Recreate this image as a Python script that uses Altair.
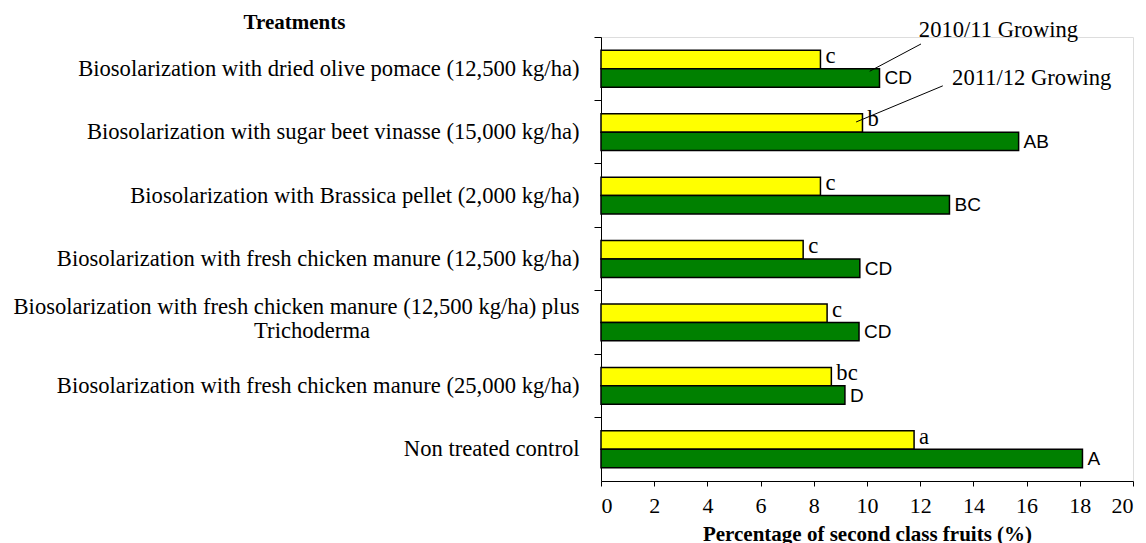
import altair as alt
import pandas as pd

# ---------------- data ----------------
treatments = [
    "Biosolarization with dried olive pomace (12,500 kg/ha)",
    "Biosolarization with sugar beet vinasse (15,000 kg/ha)",
    "Biosolarization with Brassica pellet (2,000 kg/ha)",
    "Biosolarization with fresh chicken manure (12,500 kg/ha)",
    "Biosolarization with fresh chicken manure (12,500 kg/ha) plus\nTrichoderma",
    "Biosolarization with fresh chicken manure (25,000 kg/ha)",
    "Non treated control",
]
seasons = ["2011/12", "2010/11"]
values_2011_12 = [8.25, 9.83, 8.25, 7.6, 8.5, 8.66, 11.77]
letters_2011_12 = ["c", "b", "c", "c", "c", "bc", "a"]
values_2010_11 = [10.47, 15.7, 13.1, 9.73, 9.7, 9.17, 18.1]
letters_2010_11 = ["CD", "AB", "BC", "CD", "CD", "D", "A"]
colors = ["#FFFF00", "#008000"]
x_ticks = [0, 2, 4, 6, 8, 10, 12, 14, 16, 18, 20]

# callout labels (x in data units, y in rows counted from the top)
callout_text = ["2010/11 Growing", "2011/12 Growing"]
callout_text_x = [11.95, 13.2]
callout_text_y = [0.0, 0.76]
callout_from_x = [10.1, 9.59]
callout_from_y = [0.54, 1.34]
callout_to_x = [12.03, 12.85]
callout_to_y = [0.11, 0.77]

# ---------------- tables ----------------
rows = []
for i, t in enumerate(treatments):
    rows.append({"treat": t, "season": seasons[0], "value": values_2011_12[i], "letter": letters_2011_12[i]})
    rows.append({"treat": t, "season": seasons[1], "value": values_2010_11[i], "letter": letters_2010_11[i]})
df = pd.DataFrame(rows)

second_lines = pd.DataFrame({
    "treat": [t for t in treatments if "\n" in t],
    "line2": [t.split("\n")[1] for t in treatments if "\n" in t],
})
callouts = pd.DataFrame({
    "text": callout_text, "tx": callout_text_x, "ty": callout_text_y,
    "x1": callout_from_x, "y1": callout_from_y, "x2": callout_to_x, "y2": callout_to_y,
})

W, H = 532, 444
serif = "Liberation Serif"
sans = "Liberation Sans"
multi = "indexof(datum.value, '\\n') >= 0"

x_scale = alt.Scale(domain=[0, 20], nice=False, zero=True)
y_enc = alt.Y(
    "treat:N", sort=treatments,
    scale=alt.Scale(paddingInner=0, paddingOuter=0),
    axis=alt.Axis(
        title="Treatments", titleAngle=0, titleX=-307, titleY=-9,
        titleAlign="center", titleBaseline="alphabetic",
        titleFont=serif, titleFontSize=21, titleFontWeight="bold", titleColor="black",
        labelExpr="split(datum.label, '\\n')[0]",
        labelFont=serif, labelFontSize=22.6, labelColor="black", labelLimit=0,
        labelAlign="right", labelPadding=15,
        labelOffset={"condition": {"test": multi, "value": -15}, "value": 0},
        bandPosition=0, tickSize=7, tickColor="black", domainColor="black",
        grid=False,
    ),
)
yoff_enc = alt.YOffset("season:N", sort=seasons,
                       scale=alt.Scale(paddingInner=0, paddingOuter=0.72))

x_axis = alt.Axis(
    values=x_ticks, grid=False, title="Percentage of second class fruits (%)",
    titleFont=serif, titleFontSize=21, titleFontWeight="bold", titleColor="black",
    titleY=59, titleBaseline="alphabetic",
    labelFont=serif, labelFontSize=22, labelColor="black", labelBaseline="alphabetic",
    labelPadding=26, tickSize=5, tickColor="black", domainColor="black",
)

base = alt.Chart(df)

bars = base.mark_bar(stroke="black", strokeWidth=1.5).encode(
    x=alt.X("value:Q", scale=x_scale, axis=x_axis),
    y=y_enc,
    yOffset=yoff_enc,
    color=alt.Color("season:N", scale=alt.Scale(domain=seasons, range=colors), legend=None),
)

letters_small = base.transform_filter(alt.datum.season == seasons[0]).mark_text(
    align="left", baseline="alphabetic", dx=5, dy=3.5, font=serif, fontSize=22.6, color="black"
).encode(x=alt.X("value:Q", scale=x_scale), y=y_enc, yOffset=yoff_enc, text="letter:N")

letters_caps = base.transform_filter(alt.datum.season == seasons[1]).mark_text(
    align="left", baseline="alphabetic", dx=5, dy=6.5, font=sans, fontSize=19, color="black"
).encode(x=alt.X("value:Q", scale=x_scale), y=y_enc, yOffset=yoff_enc, text="letter:N")

label_line2 = alt.Chart(second_lines).mark_text(
    align="right", baseline="middle", dy=9, font=serif, fontSize=22.6, color="black"
).encode(x=alt.value(-231), y=alt.Y("treat:N", sort=treatments), text="line2:N")

row_scale = alt.Scale(domain=[0, len(treatments)], reverse=True, nice=False, zero=False)
callout_lines = alt.Chart(callouts).mark_rule(color="black", strokeWidth=1).encode(
    x=alt.X("x1:Q", scale=x_scale), x2="x2:Q",
    y=alt.Y("y1:Q", scale=row_scale, axis=None), y2="y2:Q",
)
callout_labels = alt.Chart(callouts).mark_text(
    align="left", baseline="alphabetic", font=serif, fontSize=22.6, color="black"
).encode(
    x=alt.X("tx:Q", scale=x_scale),
    y=alt.Y("ty:Q", scale=row_scale, axis=None),
    text="text:N",
)

band_layers = alt.layer(bars, letters_small, letters_caps, label_line2)
anno_layers = alt.layer(callout_lines, callout_labels)

chart = alt.layer(band_layers, anno_layers).resolve_scale(y="independent").properties(
    width=W, height=H,
    autosize=alt.AutoSizeParams(type="none"),
    padding={"left": 593, "top": 29, "right": 5, "bottom": 62},
).configure_view(stroke=None).configure(background="white")

chart.save("out.html", embed_options={"renderer": "svg", "actions": False})
